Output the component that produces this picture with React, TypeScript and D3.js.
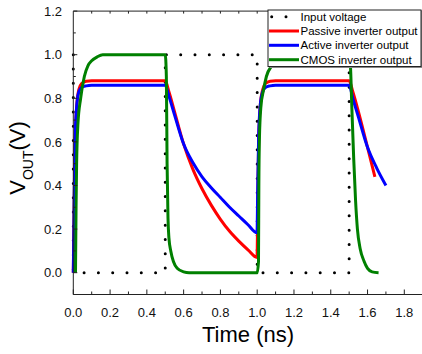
import React from "react";
import * as d3 from "d3";

type Pt = [number, number];

// Input voltage (square wave)
const inputVoltage: Pt[] = [
  [0, 1.0], [0, 0], [0.5, 0], [0.5, 1.0], [1.0, 1.0], [1.0, 0], [1.5, 0], [1.5, 1.0], [1.7, 1.0],
];

// Passive inverter output
const passiveOutput: Pt[] = [
  [0, 0], [0.005, 0.3], [0.01, 0.6], [0.02, 0.78], [0.03, 0.84], [0.045, 0.868], [0.07, 0.878], [0.1, 0.88],
  [0.5, 0.88], [0.52, 0.83], [0.55, 0.74], [0.6, 0.59], [0.65, 0.475], [0.7, 0.385], [0.75, 0.31],
  [0.8, 0.245], [0.85, 0.19], [0.9, 0.145], [0.95, 0.105], [0.999, 0.07],
  [1.003, 0.3], [1.008, 0.6], [1.018, 0.78], [1.03, 0.84], [1.045, 0.868], [1.07, 0.878], [1.1, 0.88],
  [1.5, 0.88], [1.52, 0.83], [1.55, 0.74], [1.6, 0.575], [1.64, 0.44],
];

// Active inverter output
const activeOutput: Pt[] = [
  [0, 0], [0.005, 0.35], [0.01, 0.62], [0.02, 0.78], [0.03, 0.83], [0.045, 0.85], [0.07, 0.857], [0.1, 0.86],
  [0.5, 0.86], [0.52, 0.81], [0.55, 0.725], [0.6, 0.59], [0.65, 0.505], [0.7, 0.44], [0.75, 0.39],
  [0.8, 0.345], [0.85, 0.3], [0.9, 0.26], [0.95, 0.22], [0.999, 0.183],
  [1.003, 0.4], [1.008, 0.63], [1.018, 0.78], [1.03, 0.83], [1.045, 0.85], [1.07, 0.857], [1.1, 0.86],
  [1.5, 0.86], [1.52, 0.8], [1.55, 0.715], [1.6, 0.575], [1.65, 0.48], [1.7, 0.4],
];

// CMOS inverter output
const cmosOutput: Pt[] = [
  [0.012, 0], [0.015, 0.3], [0.018, 0.5], [0.025, 0.68], [0.04, 0.8], [0.06, 0.9], [0.08, 0.95],
  [0.1, 0.972], [0.13, 0.99], [0.16, 1.0],
  [0.5, 1.0], [0.506, 0.9], [0.51, 0.5], [0.515, 0.25], [0.52, 0.16], [0.53, 0.1], [0.545, 0.05],
  [0.565, 0.02], [0.6, 0.004], [0.63, 0], [1.0, 0],
  [1.007, 0.05], [1.009, 0.4], [1.012, 0.61], [1.02, 0.76], [1.035, 0.84], [1.05, 0.9], [1.08, 0.95],
  [1.11, 0.98], [1.15, 0.995], [1.2, 1.0], [1.5, 1.0],
  [1.507, 0.95], [1.515, 0.75], [1.525, 0.52], [1.535, 0.33], [1.545, 0.2], [1.56, 0.11],
  [1.58, 0.055], [1.6, 0.02], [1.625, 0.004], [1.66, 0],
];

const seriesNames = ["Input voltage", "Passive inverter output", "Active inverter output", "CMOS inverter output"];
const seriesColors = ["#000000", "#ff0000", "#0000ff", "#008000"];

const xMajorTicks = [0, 0.2, 0.4, 0.6, 0.8, 1.0, 1.2, 1.4, 1.6, 1.8];
const xMinorTicks = [0.1, 0.3, 0.5, 0.7, 0.9, 1.1, 1.3, 1.5, 1.7, 1.9];
const yMajorTicks = [0, 0.2, 0.4, 0.6, 0.8, 1.0, 1.2];
const yMinorTicks = [-0.1, 0.1, 0.3, 0.5, 0.7, 0.9, 1.1];

const W = 422;
const H = 354;
const FONT = "Arial, 'Liberation Sans', sans-serif";

export default function App() {
  const x = d3.scaleLinear().domain([0, 1.9]).range([73.3, 422.7]);
  const y = d3.scaleLinear().domain([-0.1, 1.2]).range([294.5, 11.1]);
  const stepLine = d3
    .line<Pt>()
    .x((d) => x(d[0]))
    .y((d) => y(d[1]));
  const smoothLine = d3
    .line<Pt>()
    .x((d) => x(d[0]))
    .y((d) => y(d[1]))
    .curve(d3.curveMonotoneX);

  const allSeries = [inputVoltage, passiveOutput, activeOutput, cmosOutput];
  const x0 = x(0);
  const yb = y(-0.1);
  const yt = y(1.2);
  const axisColor = "#222";

  const legX = 268;
  const legY = 10;
  const legW = 153;
  const legH = 56.5;
  const rowY = [16.7, 31, 45.3, 59.7];

  return (
    <svg
      width={W}
      height={H}
      style={{ position: "absolute", left: 0, top: 0, background: "#fff" }}
      fontFamily={FONT}
    >
      <rect x={0} y={0} width={W} height={H} fill="#fff" />
      {/* data */}
      {allSeries.map((s, i) => (
        <path
          key={i}
          d={(i === 0 ? stepLine(s) : smoothLine(s)) || ""}
          fill="none"
          stroke={seriesColors[i]}
          strokeWidth={3}
          strokeLinejoin="round"
          strokeLinecap={i === 0 ? "round" : "butt"}
          strokeDasharray={i === 0 ? "0 14.3" : undefined}
        />
      ))}
      {/* frame */}
      <line x1={x0} x2={x0} y1={yt} y2={yb} stroke={axisColor} strokeWidth={1} />
      <line x1={x0} x2={W} y1={yb} y2={yb} stroke={axisColor} strokeWidth={1} />
      <line x1={x0} x2={W} y1={yt} y2={yt} stroke={axisColor} strokeWidth={1} />
      {/* x ticks */}
      {xMajorTicks.map((t) => (
        <g key={"xm" + t}>
          <line x1={x(t)} x2={x(t)} y1={yb} y2={yb - 5} stroke={axisColor} />
          <text x={x(t)} y={316.5} textAnchor="middle" fontSize={13} fill="#111">
            {d3.format(".1f")(t)}
          </text>
        </g>
      ))}
      {xMinorTicks.map((t) => (
        <line key={"xn" + t} x1={x(t)} x2={x(t)} y1={yb} y2={yb - 3} stroke={axisColor} />
      ))}
      {[...xMajorTicks, ...xMinorTicks].filter((t) => t > 0).map((t) => (
        <line key={"xt" + t} x1={x(t)} x2={x(t)} y1={yt} y2={yt + 2.5} stroke={axisColor} />
      ))}
      {/* y ticks */}
      {yMajorTicks.map((t) => (
        <g key={"ym" + t}>
          <line x1={x0} x2={x0 + 4} y1={y(t)} y2={y(t)} stroke={axisColor} />
          <text x={62} y={y(t) + 4.6} textAnchor="end" fontSize={13} fill="#111">
            {d3.format(".1f")(t)}
          </text>
        </g>
      ))}
      {yMinorTicks.map((t) => (
        <line key={"yn" + t} x1={x0} x2={x0 + 2.5} y1={y(t)} y2={y(t)} stroke={axisColor} />
      ))}
      {/* axis titles */}
      <text x={248} y={342} textAnchor="middle" fontSize={22} fill="#000">
        Time (ns)
      </text>
      <text transform="translate(25,158) rotate(-90)" textAnchor="middle" fontSize={22} fill="#000">
        V
        <tspan fontSize={14} dy={8}>OUT</tspan>
        <tspan dy={-8}>(V)</tspan>
      </text>
      {/* legend */}
      <rect x={legX + 1.5} y={legY + 1.5} width={legW} height={legH} fill="#888" />
      <rect x={legX} y={legY} width={legW} height={legH} fill="#fff" stroke="#222" strokeWidth={1} />
      {seriesNames.map((n, i) => (
        <g key={n}>
          {i === 0 ? (
            <line
              x1={271.7}
              x2={287}
              y1={rowY[i]}
              y2={rowY[i]}
              stroke="#000"
              strokeWidth={3}
              strokeLinecap="round"
              strokeDasharray="0 14.3"
            />
          ) : (
            <line x1={269} x2={299} y1={rowY[i]} y2={rowY[i]} stroke={seriesColors[i]} strokeWidth={3} />
          )}
          <text x={300.5} y={rowY[i] + 4} fontSize={11.5} fill="#000">
            {n}
          </text>
        </g>
      ))}
    </svg>
  );
}
